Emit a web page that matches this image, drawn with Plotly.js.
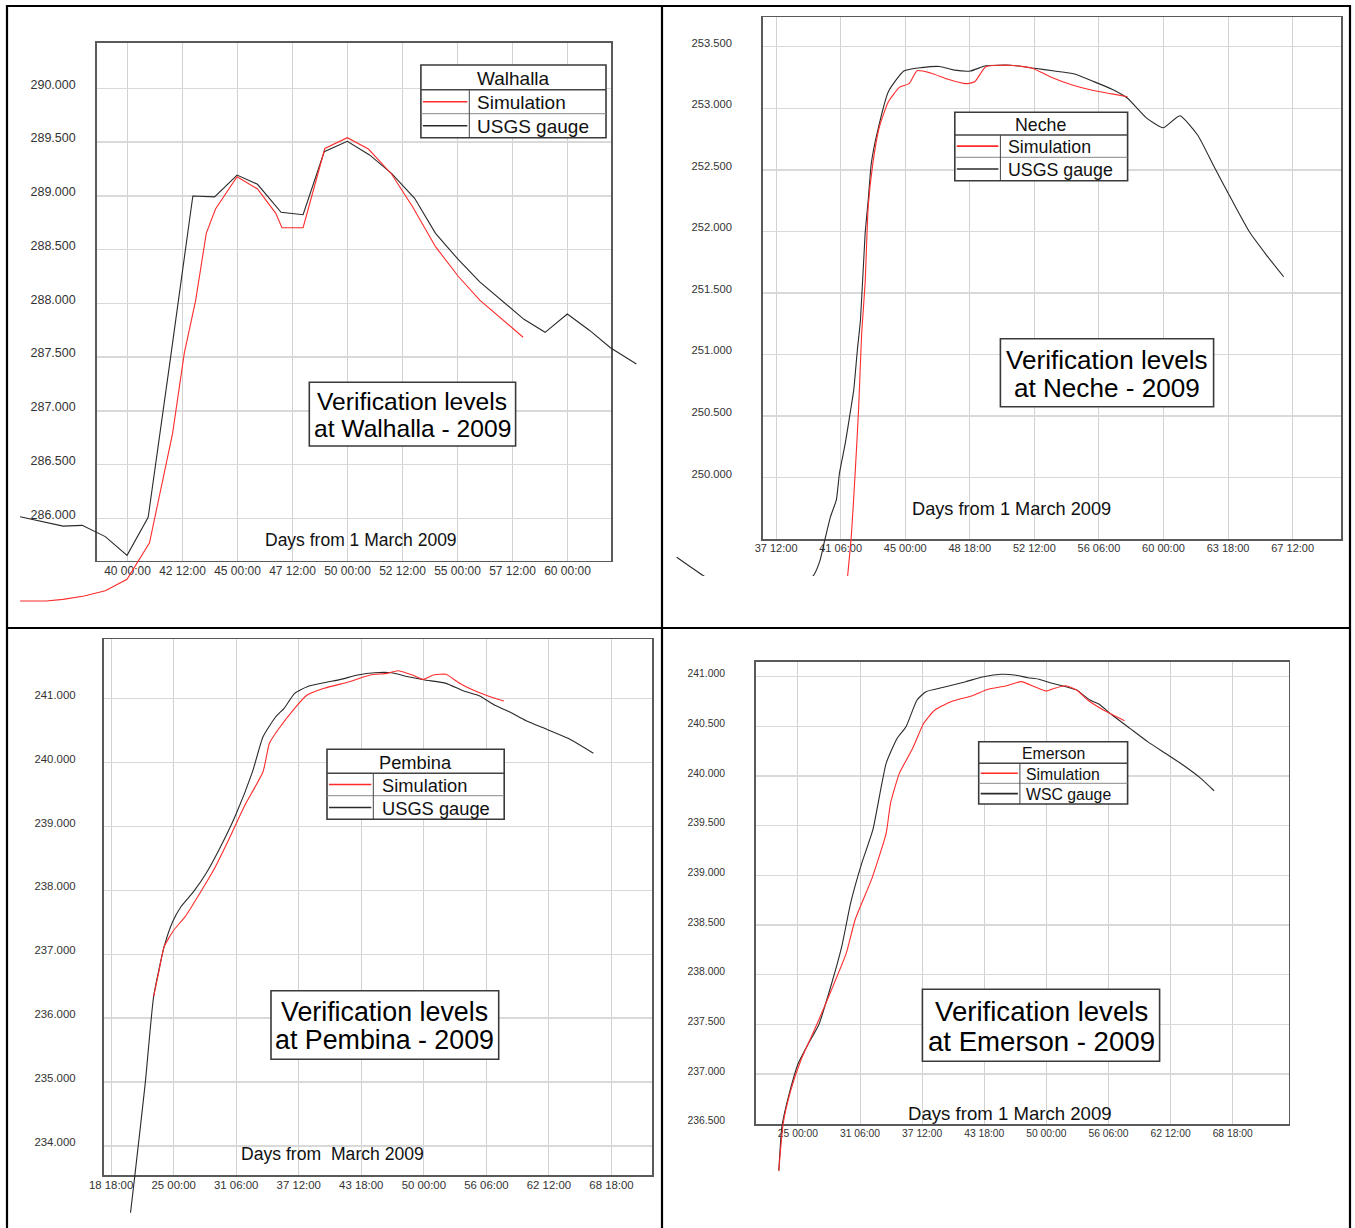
<!DOCTYPE html>
<html><head><meta charset="utf-8">
<script src="https://cdn.plot.ly/plotly-3.0.1.min.js"></script>
<style>html,body{margin:0;padding:0;background:#fff;}#chart{width:1355px;height:1228px;}</style>
</head><body><div id="chart"></div>
<script>
// ---------------- DATA ----------------
const walhallaGaugeX = [35.12, 36.12, 37.07, 37.94, 38.99, 39.98, 40.94, 41.96, 42.97, 43.96, 44.98, 45.91, 46.98, 47.98, 48.94, 49.99, 51.0, 52.0, 53.05, 54.0, 55.02, 56.01, 56.97, 58.02, 58.98, 59.99, 60.99, 61.95, 63.13];
const walhallaGaugeY = [286.015, 285.968, 285.928, 285.935, 285.83, 285.656, 286.009, 287.5, 288.998, 288.99, 289.193, 289.107, 288.847, 288.824, 289.41, 289.507, 289.38, 289.209, 288.977, 288.651, 288.41, 288.2, 288.03, 287.851, 287.73, 287.9, 287.75, 287.587, 287.435];
const walhallaSimX = [35.12, 36.31, 37.07, 38.03, 38.99, 39.98, 41.0, 42.05, 42.58, 43.1, 43.58, 44.0, 44.98, 45.91, 46.74, 47.02, 47.98, 48.97, 49.99, 50.95, 52.0, 52.95, 54.0, 55.02, 56.01, 56.97, 57.98];
const walhallaSimY = [285.231, 285.231, 285.246, 285.277, 285.327, 285.433, 285.773, 286.79, 287.535, 288.03, 288.65, 288.877, 289.178, 289.063, 288.837, 288.703, 288.703, 289.44, 289.54, 289.435, 289.203, 288.9, 288.527, 288.254, 288.03, 287.86, 287.684];

const nechGaugeX = [31.73, 33.33, 36.5, 39.64, 40.03, 40.33, 40.66, 41.0, 41.18, 41.52, 41.83, 42.01, 42.22, 42.4, 42.67, 42.85, 43.03, 43.37, 44.02, 44.92, 45.94, 46.98, 47.88, 48.78, 49.68, 51.1, 52.51, 53.67, 54.83, 55.86, 57.01, 57.91, 59.02, 59.98, 60.95, 61.98, 62.94, 63.97, 64.99, 65.98, 66.98];
const nechGaugeY = [249.354, 249.2, 248.95, 249.2, 249.318, 249.494, 249.683, 249.82, 250.036, 250.28, 250.55, 250.713, 251.037, 251.28, 251.98, 252.255, 252.553, 252.8, 253.135, 253.303, 253.33, 253.34, 253.31, 253.303, 253.345, 253.35, 253.325, 253.303, 253.279, 253.222, 253.155, 253.082, 252.92, 252.842, 252.94, 252.783, 252.525, 252.255, 251.997, 251.808, 251.632];
const nechSimX = [41.6, 41.88, 42.08, 42.29, 42.47, 42.67, 42.85, 43.12, 43.5, 44.02, 44.66, 45.22, 45.69, 46.46, 47.49, 48.52, 49.03, 49.68, 51.1, 52.38, 53.41, 54.7, 55.99, 57.01, 57.91];
const nechSimY = [249.12, 249.548, 250.008, 250.55, 251.173, 251.58, 252.2, 252.553, 252.85, 253.053, 253.17, 253.2, 253.305, 253.287, 253.236, 253.2, 253.215, 253.337, 253.35, 253.325, 253.257, 253.19, 253.143, 253.117, 253.094];

const pembinaGaugeX = [20.69, 21.11, 22.16, 23.0, 24.05, 24.9, 25.73, 26.99, 28.25, 29.52, 31.2, 32.88, 33.93, 35.2, 36.04, 37.09, 38.34, 40.03, 41.71, 43.39, 45.08, 46.76, 48.44, 50.12, 52.22, 53.91, 55.59, 57.06, 58.54, 60.22, 62.31, 64.42, 66.94];
const pembinaGaugeY = [232.956, 233.52, 234.98, 236.34, 237.119, 237.51, 237.745, 237.98, 238.268, 238.632, 239.18, 239.858, 240.405, 240.718, 240.85, 241.085, 241.188, 241.25, 241.303, 241.37, 241.407, 241.407, 241.344, 241.293, 241.24, 241.125, 241.042, 240.90, 240.797, 240.656, 240.52, 240.38, 240.146];
const pembinaSimX = [23.0, 23.55, 24.05, 25.02, 26.15, 27.62, 29.09, 30.57, 32.04, 33.93, 34.57, 35.41, 37.09, 38.34, 40.03, 42.55, 44.66, 46.34, 47.39, 48.86, 49.91, 50.96, 52.22, 53.49, 54.75, 56.43, 57.99];
const pembinaSimY = [236.34, 236.754, 237.12, 237.38, 237.589, 237.955, 238.346, 238.815, 239.31, 239.858, 240.302, 240.51, 240.85, 241.058, 241.163, 241.266, 241.371, 241.397, 241.438, 241.371, 241.303, 241.371, 241.382, 241.25, 241.147, 241.042, 240.964];

const emersonGaugeX = [23.08, 23.39, 24.05, 25.04, 26.07, 27.09, 28.3, 29.41, 30.3, 31.42, 32.54, 33.88, 34.99, 35.88, 36.99, 37.89, 39.67, 41.89, 43.69, 45.47, 46.81, 48.14, 49.26, 50.38, 52.16, 53.05, 54.39, 55.28, 56.62, 58.41, 60.19, 61.97, 63.75, 65.54, 66.88];
const emersonGaugeY = [236.027, 236.47, 236.772, 237.108, 237.309, 237.493, 237.879, 238.282, 238.719, 239.121, 239.457, 240.128, 240.38, 240.497, 240.765, 240.849, 240.893, 240.95, 241.0, 241.024, 241.017, 240.99, 240.974, 240.94, 240.893, 240.866, 240.765, 240.725, 240.614, 240.48, 240.346, 240.229, 240.111, 239.977, 239.852];
const emersonSimX = [23.08, 23.52, 24.29, 25.31, 26.96, 28.3, 29.86, 30.75, 32.45, 33.88, 34.32, 35.21, 36.55, 37.66, 38.78, 40.57, 42.57, 44.13, 45.91, 47.48, 48.82, 50.02, 50.82, 51.94, 53.05, 54.16, 55.73, 57.86];
const emersonSimY = [236.027, 236.504, 236.839, 237.141, 237.511, 237.829, 238.215, 238.551, 238.97, 239.423, 239.725, 240.027, 240.279, 240.531, 240.665, 240.755, 240.809, 240.873, 240.906, 240.95, 240.899, 240.856, 240.883, 240.909, 240.866, 240.765, 240.665, 240.557];

// tick values and labels
const walhallaXTicks = [40, 42.5, 45, 47.5, 50, 52.5, 55, 57.5, 60];
const walhallaXLabels = ["40 00:00", "42 12:00", "45 00:00", "47 12:00", "50 00:00", "52 12:00", "55 00:00", "57 12:00", "60 00:00"];
const walhallaYTicks = [286, 286.5, 287, 287.5, 288, 288.5, 289, 289.5, 290];
const walhallaYLabels = ["286.000", "286.500", "287.000", "287.500", "288.000", "288.500", "289.000", "289.500", "290.000"];

const nechXTicks = [37.5, 41.25, 45, 48.75, 52.5, 56.25, 60, 63.75, 67.5];
const nechXLabels = ["37 12:00", "41 06:00", "45 00:00", "48 18:00", "52 12:00", "56 06:00", "60 00:00", "63 18:00", "67 12:00"];
const nechYTicks = [249.5, 250, 250.5, 251, 251.5, 252, 252.5, 253, 253.5];
const nechYLabels = ["249.500", "250.000", "250.500", "251.000", "251.500", "252.000", "252.500", "253.000", "253.500"];

const pembinaXTicks = [18.75, 25, 31.25, 37.5, 43.75, 50, 56.25, 62.5, 68.75];
const pembinaXLabels = ["18 18:00", "25 00:00", "31 06:00", "37 12:00", "43 18:00", "50 00:00", "56 06:00", "62 12:00", "68 18:00"];
const pembinaYTicks = [234, 235, 236, 237, 238, 239, 240, 241];
const pembinaYLabels = ["234.000", "235.000", "236.000", "237.000", "238.000", "239.000", "240.000", "241.000"];

const emersonXTicks = [25, 31.25, 37.5, 43.75, 50, 56.25, 62.5, 68.75];
const emersonXLabels = ["25 00:00", "31 06:00", "37 12:00", "43 18:00", "50 00:00", "56 06:00", "62 12:00", "68 18:00"];
const emersonYTicks = [236.5, 237, 237.5, 238, 238.5, 239, 239.5, 240, 240.5, 241];
const emersonYLabels = ["236.500", "237.000", "237.500", "238.000", "238.500", "239.000", "239.500", "240.000", "240.500", "241.000"];

const stationNames = ["Walhalla", "Neche", "Pembina", "Emerson"];
const simName = "Simulation";
const gaugeNames = ["USGS gauge", "USGS gauge", "USGS gauge", "WSC gauge"];
const titleLine1 = "Verification levels";
const titleLine2 = ["at Walhalla - 2009", "at Neche - 2009", "at Pembina - 2009", "at Emerson - 2009"];
const xCaption = ["Days from 1 March 2009", "Days from 1 March 2009", "Days from \u00a0March 2009", "Days from 1 March 2009"];

// ---------------- LAYOUT (pixels) ----------------
const W = 1355, H = 1228;
const FONT = "Liberation Sans, Arial, sans-serif";
const RED = "#ff2b2b", BLK = "#2a2a2a";
const fx = p => p / W, fy = p => 1 - p / H;

const panels = [
  { sim: [walhallaSimX, walhallaSimY], gauge: [walhallaGaugeX, walhallaGaugeY], smooth: false,
    xt: [walhallaXTicks, walhallaXLabels], yt: [walhallaYTicks, walhallaYLabels],
    box: {l: 96.8, r: 611.1, t: 42.7, b: 560.7}, xr: [38.605, 61.98], yr: [285.606, 290.424],
    clip: {l: 9, r: 660, t: 8, b: 626}, yfs: 12.5, xfs: 12, ystand: 17, yshift: -4, xstand: -2,
    leg: {l: 420.9, r: 606, t: 65, r1: 89.7, r2: 113.7, b: 137.7, d: 469.3, tx: 474.7, fs: 19},
    tb: {l: 309.3, r: 515.6, t: 382.3, b: 446, y1: 401, y2: 427.7, fs: 24.6},
    cap: {x: 361.1, y: 538.7, fs: 17.5} },
  { sim: [nechSimX, nechSimY], gauge: [nechGaugeX, nechGaugeY], smooth: true,
    xt: [nechXTicks, nechXLabels], yt: [nechYTicks, nechYLabels],
    box: {l: 762.8, r: 1341.3, t: 17.3, b: 539}, xr: [36.728, 70.326], yr: [249.502, 253.739],
    clip: {l: 664, r: 1348, t: 8, b: 576}, yfs: 11.2, xfs: 11, ystand: 27, yshift: -4, xstand: -2,
    leg: {l: 954.8, r: 1127.6, t: 112.3, r1: 135, r2: 157.3, b: 180.7, d: 1000.4, tx: 1005.7, fs: 17.8},
    tb: {l: 1000.4, r: 1213.6, t: 338.7, b: 406.7, y1: 359, y2: 387.3, fs: 26.1},
    cap: {x: 1011.3, y: 508.3, fs: 18.2} },
  { sim: [pembinaSimX, pembinaSimY], gauge: [pembinaGaugeX, pembinaGaugeY], smooth: true,
    xt: [pembinaXTicks, pembinaXLabels], yt: [pembinaYTicks, pembinaYLabels],
    box: {l: 103.5, r: 652.4, t: 639.3, b: 1175}, xr: [17.99, 72.84], yr: [233.546, 241.93],
    clip: {l: 9, r: 660, t: 630, b: 1213}, yfs: 11.4, xfs: 11.4, ystand: 24, yshift: -4, xstand: -1,
    leg: {l: 327, r: 504.2, t: 749.3, r1: 773.3, r2: 795.7, b: 819.3, d: 373.3, tx: 379.6, fs: 18.3},
    tb: {l: 271, r: 498.7, t: 990.7, b: 1059.3, y1: 1010.7, y2: 1039, fs: 26.8},
    cap: {x: 332.3, y: 1153.3, fs: 17.6} },
  { sim: [emersonSimX, emersonSimY], gauge: [emersonGaugeX, emersonGaugeY], smooth: true,
    xt: [emersonXTicks, emersonXLabels], yt: [emersonYTicks, emersonYLabels],
    box: {l: 755.7, r: 1288.5, t: 661.7, b: 1124.3}, xr: [20.754, 74.366], yr: [236.494, 241.151],
    clip: {l: 664, r: 1348, t: 630, b: 1171}, yfs: 10.4, xfs: 10.3, ystand: 27, yshift: -3, xstand: -1,
    leg: {l: 978.7, r: 1127.6, t: 741.7, r1: 763.3, r2: 783.3, b: 804, d: 1019.9, tx: 1024.4, fs: 15.8},
    tb: {l: 922.4, r: 1159.6, t: 989.3, b: 1061.3, y1: 1010.7, y2: 1040, fs: 27.6},
    cap: {x: 1009.5, y: 1112.3, fs: 18.6} }
];

const data = [];
const layout = {
  width: W, height: H, margin: {l: 0, r: 0, t: 0, b: 0},
  paper_bgcolor: "#ffffff", plot_bgcolor: "rgba(0,0,0,0)",
  showlegend: false, shapes: [], annotations: [], font: {family: FONT}
};

panels.forEach((p, i) => {
  const n = i + 1, m = i + 5;
  const fk = n === 1 ? "" : String(n);
  const b = p.box, c = p.clip;
  // frame axes
  layout["xaxis" + fk] = {
    domain: [fx(b.l), fx(b.r)], range: p.xr, anchor: "y" + fk, fixedrange: true,
    tickmode: "array", tickvals: p.xt[0], ticktext: p.xt[1], ticks: "",
    showgrid: true, gridcolor: "#d2d2d2", gridwidth: 1, zeroline: false,
    showline: true, mirror: true, linecolor: "#5a5a5a", linewidth: 1.6,
    tickfont: {family: FONT, size: p.xfs, color: "#333"}, ticklabelstandoff: p.xstand
  };
  layout["yaxis" + fk] = {
    domain: [fy(b.b), fy(b.t)], range: p.yr, anchor: "x" + fk, fixedrange: true,
    tickmode: "array", tickvals: p.yt[0], ticktext: p.yt[1], ticks: "",
    showgrid: true, gridcolor: "#d9d9d9", gridwidth: 1.5, zeroline: false,
    showline: true, mirror: true, linecolor: "#5a5a5a", linewidth: 1.6,
    tickfont: {family: FONT, size: p.yfs, color: "#333"}, ticklabelstandoff: p.ystand, ticklabelshift: p.yshift
  };
  // data axes (same scale, larger clip region)
  const sx = (p.xr[1] - p.xr[0]) / (b.r - b.l);
  const sy = (p.yr[1] - p.yr[0]) / (b.b - b.t);
  layout["xaxis" + m] = {
    domain: [fx(c.l), fx(c.r)], anchor: "y" + m, visible: false, fixedrange: true,
    range: [p.xr[0] - (b.l - c.l) * sx, p.xr[1] + (c.r - b.r) * sx]
  };
  layout["yaxis" + m] = {
    domain: [fy(c.b), fy(c.t)], anchor: "x" + m, visible: false, fixedrange: true,
    range: [p.yr[0] - (c.b - b.b) * sy, p.yr[1] + (b.t - c.t) * sy]
  };
  const ls = p.smooth ? {shape: "spline", smoothing: 0.5} : {shape: "linear"};
  data.push({x: [p.xr[0]], y: [p.yr[0]], xaxis: "x" + fk, yaxis: "y" + fk, mode: "markers",
             marker: {opacity: 0}, hoverinfo: "skip", showlegend: false});
  data.push({x: p.gauge[0], y: p.gauge[1], xaxis: "x" + m, yaxis: "y" + m, mode: "lines",
             name: gaugeNames[i], line: Object.assign({color: BLK, width: 1.1}, ls)});
  data.push({x: p.sim[0], y: p.sim[1], xaxis: "x" + m, yaxis: "y" + m, mode: "lines",
             name: simName, line: Object.assign({color: RED, width: 1.1}, ls)});

  // legend table
  const L = p.leg, S = layout.shapes, A = layout.annotations;
  S.push({type: "rect", xref: "paper", yref: "paper", x0: fx(L.l), x1: fx(L.r), y0: fy(L.b), y1: fy(L.t),
          line: {color: "#3a3a3a", width: 1.6}, fillcolor: "#ffffff", layer: "above"});
  S.push({type: "line", xref: "paper", yref: "paper", x0: fx(L.l), x1: fx(L.r), y0: fy(L.r1), y1: fy(L.r1), line: {color: "#444", width: 1.4}, layer: "above"});
  S.push({type: "line", xref: "paper", yref: "paper", x0: fx(L.l), x1: fx(L.r), y0: fy(L.r2), y1: fy(L.r2), line: {color: "#888", width: 1}, layer: "above"});
  S.push({type: "line", xref: "paper", yref: "paper", x0: fx(L.d), x1: fx(L.d), y0: fy(L.r1), y1: fy(L.b), line: {color: "#444", width: 1}, layer: "above"});
  const c1 = (L.r1 + L.r2) / 2, c2 = (L.r2 + L.b) / 2;
  S.push({type: "line", xref: "paper", yref: "paper", x0: fx(L.l + 2), x1: fx(L.d - 2), y0: fy(c1), y1: fy(c1), line: {color: RED, width: 1.6}, layer: "above"});
  S.push({type: "line", xref: "paper", yref: "paper", x0: fx(L.l + 2), x1: fx(L.d - 2), y0: fy(c2), y1: fy(c2), line: {color: BLK, width: 1.6}, layer: "above"});
  A.push({xref: "paper", yref: "paper", x: fx((L.l + L.r) / 2), y: fy((L.t + L.r1) / 2 + 1), text: stationNames[i],
          showarrow: false, xanchor: "center", yanchor: "middle", font: {family: FONT, size: L.fs, color: "#111"}});
  A.push({xref: "paper", yref: "paper", x: fx(L.tx), y: fy(c1 + 1), text: simName,
          showarrow: false, xanchor: "left", yanchor: "middle", font: {family: FONT, size: L.fs, color: "#111"}});
  A.push({xref: "paper", yref: "paper", x: fx(L.tx), y: fy(c2 + 1), text: gaugeNames[i],
          showarrow: false, xanchor: "left", yanchor: "middle", font: {family: FONT, size: L.fs, color: "#111"}});

  // title box
  const T = p.tb;
  S.push({type: "rect", xref: "paper", yref: "paper", x0: fx(T.l), x1: fx(T.r), y0: fy(T.b), y1: fy(T.t),
          line: {color: "#3a3a3a", width: 1.6}, fillcolor: "#ffffff", layer: "above"});
  A.push({xref: "paper", yref: "paper", x: fx((T.l + T.r) / 2), y: fy(T.y1 + 1), text: titleLine1,
          showarrow: false, xanchor: "center", yanchor: "middle", font: {family: FONT, size: T.fs, color: "#000"}});
  A.push({xref: "paper", yref: "paper", x: fx((T.l + T.r) / 2), y: fy(T.y2 + 1), text: titleLine2[i],
          showarrow: false, xanchor: "center", yanchor: "middle", font: {family: FONT, size: T.fs, color: "#000"}});
  // axis caption
  A.push({xref: "paper", yref: "paper", x: fx(p.cap.x), y: fy(p.cap.y + 1), text: xCaption[i],
          showarrow: false, xanchor: "center", yanchor: "middle", font: {family: FONT, size: p.cap.fs, color: "#111"}});
});

// table borders
const B = {color: "#000", width: 2.2};
[[7, 5, 7, 1228], [6, 6, 1351, 6], [1350, 5, 1350, 1228], [662, 5, 662, 1228], [6, 628, 1351, 628]].forEach(s => {
  layout.shapes.push({type: "line", xref: "paper", yref: "paper", x0: fx(s[0]), y0: fy(s[1]), x1: fx(s[2]), y1: fy(s[3]), line: B, layer: "above"});
});

Plotly.newPlot("chart", data, layout, {staticPlot: true, displayModeBar: false});
</script>
</body></html>
